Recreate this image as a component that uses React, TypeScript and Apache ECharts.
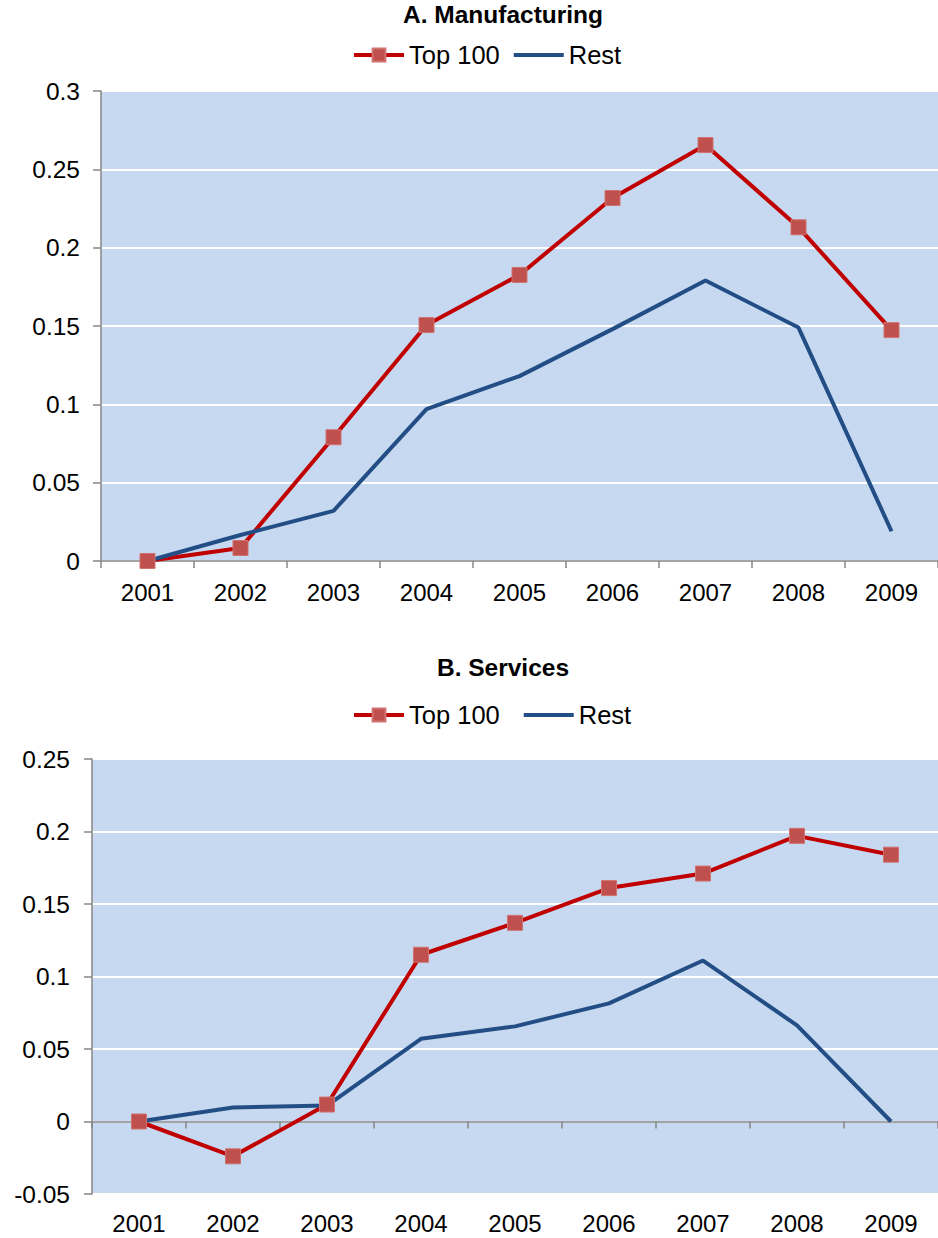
import React, { useEffect, useRef } from "react";
import * as echarts from "echarts";

const years = ["2001", "2002", "2003", "2004", "2005", "2006", "2007", "2008", "2009"];

const manufTop100 = [0, 0.0083, 0.079, 0.1506, 0.1826, 0.2317, 0.2655, 0.213, 0.1474];
const manufRest = [0, 0.0166, 0.032, 0.097, 0.118, 0.148, 0.179, 0.149, 0.019];

const servTop100 = [0, -0.024, 0.0117, 0.115, 0.137, 0.161, 0.171, 0.197, 0.184];
const servRest = [0, 0.0097, 0.011, 0.057, 0.0656, 0.0815, 0.111, 0.0663, 0];

const titles = ["A. Manufacturing", "B. Services"];
const seriesNames = ["Top 100", "Rest"];

const FONT = "'Liberation Sans', Arial, sans-serif";
const RED_LINE = "#C00000";
const RED_MARK = "#C0504D";
const BLUE = "#234E85";
const AXIS = "#868686";
const PLOT_BG = "#C6D9F0";
const LINE_W = 4;

export default function App() {
  const ref = useRef<HTMLDivElement>(null);

  useEffect(() => {
    if (!ref.current) return;
    const chart = echarts.init(ref.current, null, { renderer: "svg" });

    const yAxisCommon = {
      type: "value",
      axisLine: { show: true, lineStyle: { color: AXIS, width: 1.5 } },
      axisTick: { show: true, length: 8, lineStyle: { color: AXIS, width: 1.5 } },
      splitLine: { show: true, lineStyle: { color: "#FFFFFF", width: 2 } },
      axisLabel: { color: "#000", fontSize: 24.5, fontFamily: FONT },
    };

    const legendData = (suffix: string) => [
      { name: seriesNames[0] + suffix, lineStyle: { width: LINE_W, color: RED_LINE } },
      {
        name: seriesNames[1] + suffix,
        lineStyle: { width: LINE_W, color: BLUE },
        itemStyle: { color: "rgba(0,0,0,0)", borderWidth: 0 },
      },
    ];

    const titleStyle = { fontSize: 24.5, fontWeight: "bold", fontFamily: FONT, color: "#000" };
    const legendText = { fontSize: 25.5, fontFamily: FONT, color: "#000" };

    const option: any = {
      animation: false,
      backgroundColor: "#FFFFFF",
      title: [
        { text: titles[0], left: 503, top: 2, textAlign: "center", padding: 0, textStyle: titleStyle },
        { text: titles[1], left: 503, top: 655, textAlign: "center", padding: 0, textStyle: titleStyle },
      ],
      legend: [
        {
          left: 352,
          top: 42,
          padding: 0,
          itemGap: 12,
          itemWidth: 50,
          itemHeight: 16,
          data: legendData(""),
          textStyle: legendText,
        },
        {
          left: 352,
          top: 702,
          padding: 0,
          itemGap: 22,
          itemWidth: 50,
          itemHeight: 16,
          data: legendData(" "),
          formatter: (n: string) => n.trim(),
          textStyle: legendText,
        },
      ],
      grid: [
        { left: 101, top: 91, width: 846, height: 470, show: true, backgroundColor: PLOT_BG, borderWidth: 0 },
        { left: 92, top: 759, width: 847, height: 435, show: true, backgroundColor: PLOT_BG, borderWidth: 0 },
      ],
      xAxis: [
        {
          type: "category",
          gridIndex: 0,
          data: years,
          boundaryGap: true,
          position: "bottom",
          axisLine: { show: true, onZero: true, lineStyle: { color: AXIS, width: 1.5 } },
          axisTick: { show: true, length: 7, lineStyle: { color: AXIS, width: 1.5 } },
          axisLabel: { color: "#000", fontSize: 24, fontFamily: FONT, margin: 19 },
          splitLine: { show: false },
        },
        {
          type: "category",
          gridIndex: 1,
          data: years,
          boundaryGap: true,
          position: "bottom",
          axisLine: { show: false, onZero: false },
          axisTick: { show: false },
          axisLabel: { color: "#000", fontSize: 24, fontFamily: FONT, margin: 17 },
          splitLine: { show: false },
        },
        {
          type: "category",
          gridIndex: 1,
          data: years,
          boundaryGap: true,
          position: "bottom",
          axisLine: { show: true, onZero: true, lineStyle: { color: AXIS, width: 1.5 } },
          axisTick: { show: true, length: 7, lineStyle: { color: AXIS, width: 1.5 } },
          axisLabel: { show: false },
          splitLine: { show: false },
        },
      ],
      yAxis: [
        {
          ...yAxisCommon,
          gridIndex: 0,
          min: 0,
          max: 0.3,
          interval: 0.05,
          axisLabel: { ...yAxisCommon.axisLabel, margin: 21 },
        },
        {
          ...yAxisCommon,
          gridIndex: 1,
          min: -0.05,
          max: 0.25,
          interval: 0.05,
          axisLabel: { ...yAxisCommon.axisLabel, margin: 22 },
        },
      ],
      series: [
        {
          name: seriesNames[0],
          type: "line",
          xAxisIndex: 0,
          yAxisIndex: 0,
          data: manufTop100,
          symbol: "rect",
          symbolSize: 15,
          lineStyle: { color: RED_LINE, width: LINE_W },
          itemStyle: { color: RED_MARK, borderColor: "#D07370", borderWidth: 1 },
        },
        {
          name: seriesNames[1],
          type: "line",
          xAxisIndex: 0,
          yAxisIndex: 0,
          data: manufRest,
          symbol: "circle",
          showSymbol: false,
          lineStyle: { color: BLUE, width: LINE_W },
          itemStyle: { color: BLUE },
        },
        {
          name: seriesNames[0] + " ",
          type: "line",
          xAxisIndex: 1,
          yAxisIndex: 1,
          data: servTop100,
          symbol: "rect",
          symbolSize: 15,
          lineStyle: { color: RED_LINE, width: LINE_W },
          itemStyle: { color: RED_MARK, borderColor: "#D07370", borderWidth: 1 },
        },
        {
          name: seriesNames[1] + " ",
          type: "line",
          xAxisIndex: 1,
          yAxisIndex: 1,
          data: servRest,
          symbol: "circle",
          showSymbol: false,
          lineStyle: { color: BLUE, width: LINE_W },
          itemStyle: { color: BLUE },
        },
      ],
    };

    chart.setOption(option);
    return () => chart.dispose();
  }, []);

  return (
    <div
      ref={ref}
      style={{ position: "absolute", left: 0, top: 0, width: 938, height: 1238, background: "#fff" }}
    />
  );
}
